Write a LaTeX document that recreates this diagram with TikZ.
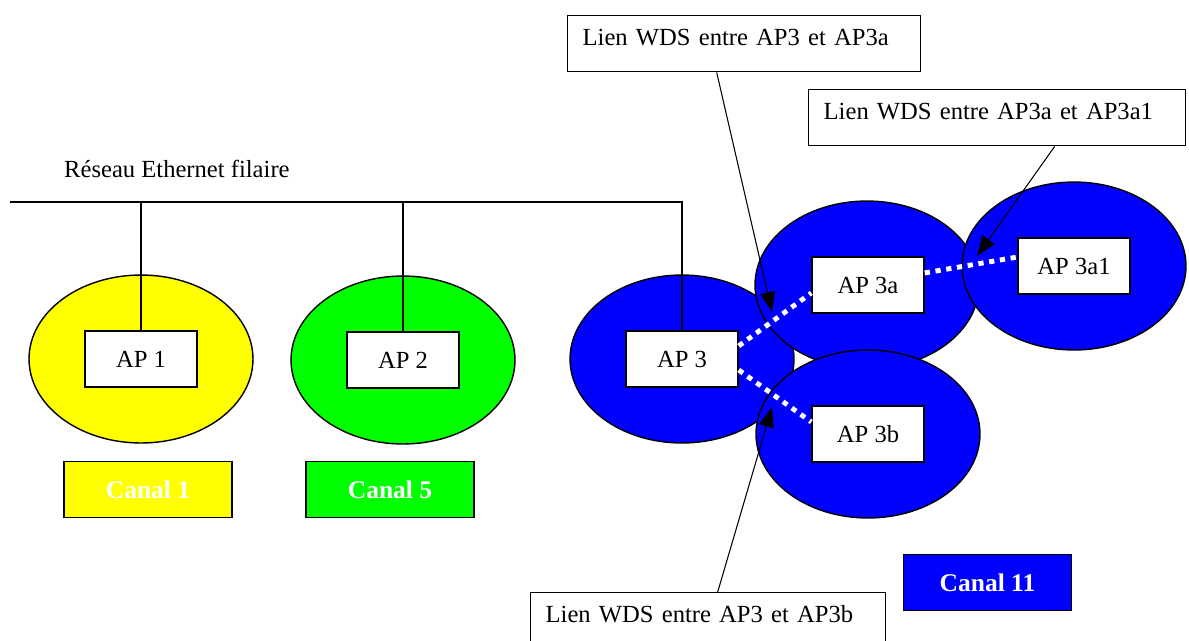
\documentclass[tikz,border=0pt]{standalone}
\usepackage{fontspec}
\setmainfont{Liberation Serif}
\usetikzlibrary{shapes.geometric,arrows.meta}
\definecolor{canalyellow}{RGB}{255,255,0}
\definecolor{canalgreen}{RGB}{0,255,0}
\definecolor{canalblue}{RGB}{0,0,255}
\begin{document}
\begin{tikzpicture}[x=0.02cm,y=-0.02cm,
        font=\fontsize{14}{17}\selectfont,
        cell/.style={ellipse,draw,line width=0.8pt,minimum width=4.48cm,minimum height=3.36cm,inner sep=0pt},
        apbox/.style={draw,fill=white,line width=0.8pt,minimum width=2.24cm,minimum height=1.12cm,inner sep=0pt},
        canalbox/.style={draw,line width=0.8pt,minimum width=3.36cm,minimum height=1.12cm,inner sep=0pt,
            text=white,font=\fontsize{14.5}{17}\selectfont\bfseries},
        wdsnote/.style={draw,fill=white,line width=0.8pt,align=left,anchor=north west,
            inner xsep=0.3cm,inner ysep=0pt,text height=0.6cm,text depth=0.52cm},
        wdslink/.style={white,line width=2.8pt,dash pattern=on 3pt off 3.2pt},
        wdsarrow/.style={-{Triangle[length=0.4cm,width=0.3cm]},line width=0.6pt}]
        \useasboundingbox (0,0) rectangle (1189,640);
        \clip (0,0) rectangle (1189,640);
        % cells (coverage of each access point)
        \node[cell,fill=canalyellow] (cell1) at (141,359) {};
        \node[cell,fill=canalgreen] (cell2) at (403,360) {};
        \node[cell,fill=canalblue] (cell3) at (682,359) {};
        \node[cell,fill=canalblue] (cell3a) at (867,285) {};
        \node[cell,fill=canalblue] (cell3a1) at (1074,266) {};
        \node[cell,fill=canalblue] (cell3b) at (868,434) {};
        % access points
        \node[apbox] (ap1) at (141,359) {AP 1};
        \node[apbox] (ap2) at (403,360) {AP 2};
        \node[apbox] (ap3) at (682,359) {AP 3};
        \node[apbox] (ap3a) at (868,285) {AP 3a};
        \node[apbox] (ap3a1) at (1074,266) {AP 3a1};
        \node[apbox] (ap3b) at (868,434) {AP 3b};
        % wired ethernet
        \node[anchor=base west] (ethlabel) at (58,177) {Réseau Ethernet filaire};
        \coordinate (busw) at (10,202);
        \draw[line width=0.8pt] (busw) -| (ap3);
        \foreach \ap in {ap1,ap2}{
                \draw[line width=0.8pt] (\ap.north) -- (\ap.north |- busw);
            }
        % channels
        \node[canalbox,fill=canalyellow] (canal1) at (148,489.5) {Canal 1};
        \node[canalbox,fill=canalgreen] (canal5) at (390,489.5) {Canal 5};
        \node[canalbox,fill=canalblue] (canal11) at (987.5,582.5) {Canal 11};
        % wds links
        \draw[wdslink] (ap3.13) -- (ap3a.188);
        \draw[wdslink] (ap3.-11) -- (ap3b.168);
        \draw[wdslink] (ap3a.12) -- (ap3a1.171);
        % notes
        \node[wdsnote,text width=6.46cm] (note3a) at (567,15) {Lien WDS entre AP3 et AP3a};
        \node[wdsnote,text width=6.94cm] (note3a1) at (808,89) {Lien WDS entre AP3a et AP3a1};
        \node[wdsnote,text width=6.5cm] (note3b) at (530,592) {Lien WDS entre AP3 et AP3b};
        \coordinate (tip3a) at (772,312);
        \coordinate (tip3a1) at (977,256);
        \coordinate (tip3b) at (772,407);
        \draw[wdsarrow] ([xshift=-0.55cm]note3a.south) -- (tip3a);
        \draw[wdsarrow] ([xshift=1.15cm]note3a1.south) -- (tip3a1);
        \draw[wdsarrow] ([xshift=0.19cm]note3b.north) -- (tip3b);
\end{tikzpicture}
\end{document}
